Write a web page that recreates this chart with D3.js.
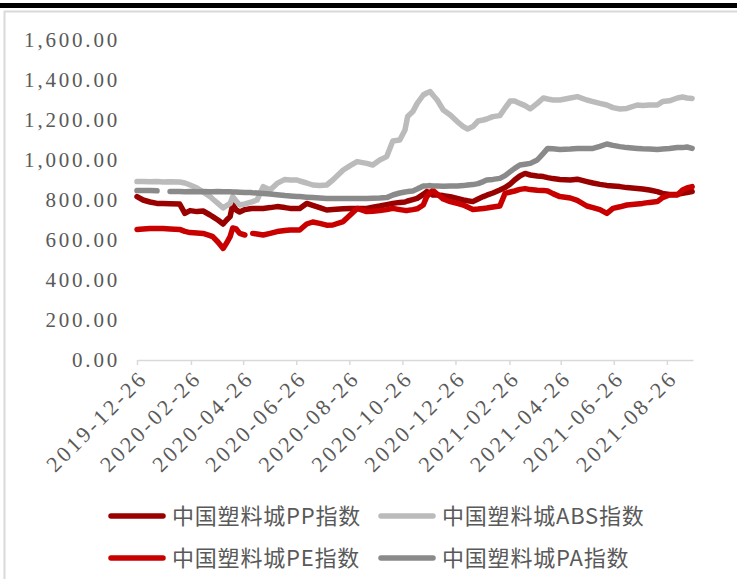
<!DOCTYPE html>
<html>
<head>
<meta charset="utf-8">
<script src="https://cdn.jsdelivr.net/npm/d3@7"></script>
<style>
  html, body { margin: 0; padding: 0; background: #fff; }
  svg { display: block; }
</style>
</head>
<body>
<svg id="chart" width="737" height="579"></svg>
<script>
// ---------------- DATA ----------------
const dates = [
  "2019-12-26","2020-01-02","2020-01-10","2020-01-18","2020-01-25","2020-02-02","2020-02-13","2020-02-19","2020-02-25","2020-03-04",
  "2020-03-11","2020-03-19","2020-03-22","2020-03-28","2020-04-03","2020-04-07","2020-04-11","2020-04-14","2020-04-18","2020-04-22",
  "2020-04-28","2020-05-04","2020-05-07","2020-05-12","2020-05-19","2020-05-27","2020-06-04","2020-06-13","2020-06-19","2020-06-27",
  "2020-06-30","2020-07-08","2020-07-15","2020-07-23","2020-07-31","2020-08-07","2020-08-19","2020-08-27","2020-09-04","2020-09-15",
  "2020-09-22","2020-09-30","2020-10-08","2020-10-15","2020-10-23","2020-10-29","2020-11-01","2020-11-07","2020-11-12","2020-11-19",
  "2020-11-23","2020-11-27","2020-11-30","2020-12-05","2020-12-12","2020-12-20","2020-12-28","2021-01-04","2021-01-09","2021-01-15",
  "2021-01-21","2021-01-27","2021-01-31","2021-02-07","2021-02-15","2021-02-21","2021-02-27","2021-03-04","2021-03-10","2021-03-16",
  "2021-03-22","2021-03-30","2021-04-06","2021-04-11","2021-04-17","2021-04-25","2021-05-07","2021-05-15","2021-05-26","2021-06-02",
  "2021-06-10","2021-06-18","2021-06-25","2021-07-03","2021-07-11","2021-07-23","2021-07-29","2021-08-06","2021-08-15","2021-08-21",
  "2021-08-29","2021-09-07","2021-09-13","2021-09-18","2021-09-24"
];

const ppValues = [
  817,800,790,783,782,781,780,733,747,742,
  745,725,717,700,680,700,717,778,750,740,
  752,756,758,758,758,762,767,762,758,758,
  758,783,773,762,750,752,756,758,758,758,
  764,770,777,783,788,790,795,802,808,828,
  842,835,825,825,822,817,808,800,796,792,
  805,817,824,835,850,862,880,900,920,933,
  925,920,917,912,907,903,900,904,892,885,
  878,873,870,867,862,858,855,850,842,833,
  828,828,833,837,842
];

const absValues = [
  892,893,891,892,890,891,890,885,875,860,
  840,817,805,783,760,772,783,817,795,775,
  780,788,792,800,867,850,883,903,900,900,
  895,885,875,873,875,900,950,972,992,983,
  975,1000,1017,1095,1100,1150,1217,1242,1283,1325,
  1335,1342,1325,1300,1250,1225,1192,1167,1155,1167,
  1195,1200,1205,1217,1222,1260,1295,1295,1283,1272,
  1256,1283,1310,1305,1300,1300,1310,1317,1300,1292,
  1283,1275,1262,1255,1258,1275,1272,1275,1275,1292,
  1296,1310,1315,1310,1308
];

const peValues = [
  653,655,657,658,657,655,653,643,637,635,
  633,622,617,590,558,585,617,660,655,633,
  625,null,633,630,625,633,642,647,650,650,
  650,680,690,683,674,675,692,725,758,742,
  744,747,752,758,752,748,748,752,756,775,
  817,837,848,830,805,792,783,775,765,753,
  755,758,760,765,770,833,840,845,853,857,
  852,849,848,845,832,817,810,798,770,762,
  752,733,758,766,775,780,783,788,792,812,
  825,825,850,860,867
];

const paValues = [
  847,848,847,846,null,842,842,841,842,841,
  842,841,841,842,841,841,841,840,840,839,
  838,837,836,835,833,830,826,822,820,818,
  817,814,812,810,808,808,808,808,808,808,
  809,810,812,825,835,840,842,845,855,870,
  870,872,870,870,869,870,870,872,875,877,
  882,892,900,903,908,922,942,958,975,979,
  983,1000,1033,1058,1056,1053,1055,1058,1058,1058,
  1068,1080,1073,1067,1062,1058,1056,1055,1053,1055,
  1058,1063,1062,1065,1058
];

const seriesNames = ["中国塑料城PP指数", "中国塑料城ABS指数", "中国塑料城PE指数", "中国塑料城PA指数"];
const seriesColors = ["#990000", "#BBBBBB", "#C80000", "#8A8A8A"];
const yTickValues = [0, 200, 400, 600, 800, 1000, 1200, 1400, 1600];
const xTickLabels = ["2019-12-26","2020-02-26","2020-04-26","2020-06-26","2020-08-26","2020-10-26",
                     "2020-12-26","2021-02-26","2021-04-26","2021-06-26","2021-08-26"];
const xDomain = ["2019-12-26", "2021-09-25"];

// ---------------- CHART ----------------
const parse = d3.timeParse("%Y-%m-%d");
const svg = d3.select("#chart");
const W = 737, H = 579;

// top black band and grey frame
svg.append("rect").attr("x", 0).attr("y", 3).attr("width", W).attr("height", 5).attr("fill", "#000");
svg.append("line").attr("x1", 4).attr("x2", W).attr("y1", 11.5).attr("y2", 11.5)
  .attr("stroke", "#D9D9D9").attr("stroke-width", 2);
svg.append("line").attr("x1", 4.5).attr("x2", 4.5).attr("y1", 11).attr("y2", H)
  .attr("stroke", "#D9D9D9").attr("stroke-width", 2);

const x = d3.scaleTime().domain(xDomain.map(parse)).range([137, 693]);
const y = d3.scaleLinear().domain([0, 1600]).range([360, 40]);

const labelFont = "'Liberation Serif', 'DejaVu Serif', serif";
const textColor = "#595959";

// Y axis (labels only)
const yAxis = d3.axisLeft(y).tickValues(yTickValues).tickFormat(d3.format(",.2f")).tickSize(0).tickPadding(0);
const gy = svg.append("g").attr("transform", "translate(120,0)").call(yAxis);
gy.select(".domain").remove();
gy.selectAll("text")
  .attr("font-family", labelFont).attr("font-size", 21).attr("fill", textColor)
  .attr("letter-spacing", "2.8px").attr("dy", "0.33em");

// X axis
const xAxis = d3.axisBottom(x).tickValues(xTickLabels.map(parse))
  .tickFormat(d3.timeFormat("%Y-%m-%d")).tickSize(5).tickSizeOuter(0);
const gx = svg.append("g").attr("transform", "translate(0,360)").call(xAxis);
gx.select(".domain").attr("stroke", "#D9D9D9").attr("stroke-width", 1.5);
gx.selectAll(".tick line").attr("stroke", "#D9D9D9").attr("stroke-width", 1.5);
gx.selectAll("text")
  .attr("font-family", labelFont).attr("font-size", 22).attr("fill", textColor)
  .attr("letter-spacing", "3px")
  .attr("text-anchor", "end")
  .attr("dy", "0.35em")
  .attr("transform", "translate(6,14) rotate(-45)")
  .attr("y", 0).attr("x", 0);

// Lines
const allValues = [ppValues, absValues, peValues, paValues];
const line = d3.line()
  .defined(d => d.v != null)
  .x(d => x(d.date))
  .y(d => y(d.v));

allValues.forEach((vals, i) => {
  const data = dates.map((d, j) => ({ date: parse(d), v: vals[j] }));
  svg.append("path")
    .datum(data)
    .attr("fill", "none")
    .attr("stroke", seriesColors[i])
    .attr("stroke-width", 5.5)
    .attr("stroke-linejoin", "round")
    .attr("stroke-linecap", "round")
    .attr("d", line);
});

// Legend
const legendPos = [
  { lx: 111, ly: 516 }, { lx: 381, ly: 516 },
  { lx: 111, ly: 558 }, { lx: 381, ly: 558 }
];
seriesNames.forEach((name, i) => {
  const p = legendPos[i];
  const g = svg.append("g").attr("transform", `translate(${p.lx},${p.ly})`);
  g.append("line").attr("x1", 0).attr("x2", 52).attr("y1", 0).attr("y2", 0)
    .attr("stroke", seriesColors[i]).attr("stroke-width", 5.5).attr("stroke-linecap", "round");
  g.append("text").attr("x", 61).attr("y", 0).attr("dy", "0.36em")
    .attr("font-family", "'Noto Sans CJK SC', sans-serif").attr("font-size", 22)
    .attr("letter-spacing", "0.8px")
    .attr("fill", textColor).text(name);
});
</script>
</body>
</html>
